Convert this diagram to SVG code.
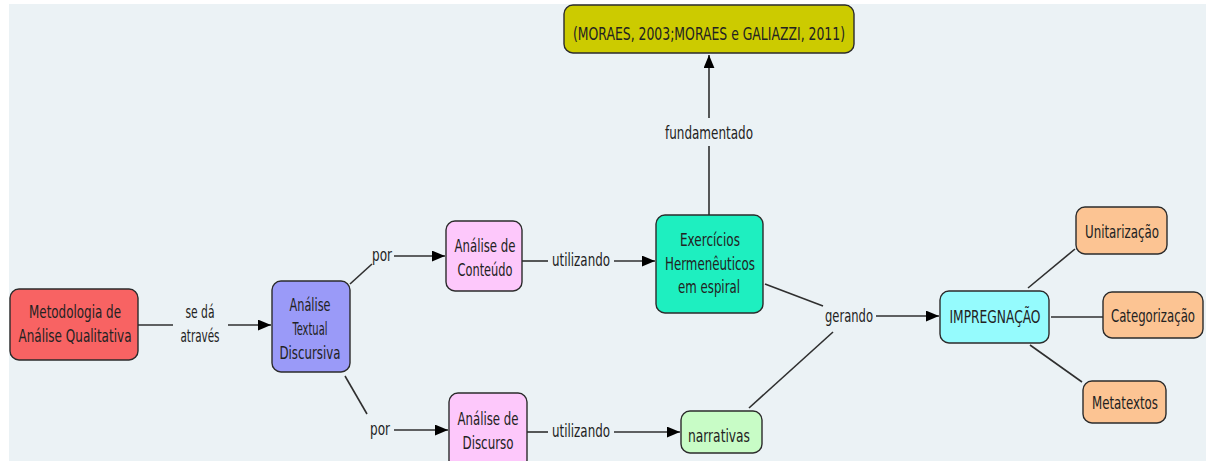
<svg xmlns="http://www.w3.org/2000/svg" width="1206" height="461" viewBox="0 0 1206 461">
  <defs>
    <marker id="arrow" viewBox="0 0 12 10" refX="12" refY="5" markerWidth="13" markerHeight="11" markerUnits="userSpaceOnUse" orient="auto">
      <path d="M0,0 L12,5 L0,10 Z" fill="#000"/>
    </marker>
    <style>
      .box { stroke: #2b2b2b; stroke-width: 1.4; }
      .lbl { font-family: "DejaVu Sans Condensed", "DejaVu Sans", sans-serif; font-size: 17px; fill: #222; text-anchor: middle; }
      .ln { stroke: #2f2f2f; stroke-width: 1.6; fill: none; }
      .arr { stroke: #2f2f2f; stroke-width: 1.6; fill: none; marker-end: url(#arrow); }
    </style>
  </defs>

  <!-- page and canvas -->
  <rect x="0" y="0" width="1206" height="461" fill="#ffffff"/>
  <rect x="9" y="4" width="1197" height="457" fill="#ebf2f5"/>

  <!-- connectors -->
  <g id="connectors">
    <line class="ln" x1="138" y1="325" x2="173" y2="325"/>
    <line class="arr" x1="228" y1="325" x2="271" y2="325"/>

    <line class="ln" x1="350" y1="284" x2="372" y2="264"/>
    <line class="arr" x1="394" y1="256" x2="445" y2="256"/>

    <line class="ln" x1="345" y1="376" x2="367" y2="414"/>
    <line class="arr" x1="394" y1="430" x2="448" y2="430"/>

    <line class="ln" x1="522" y1="261" x2="548" y2="261"/>
    <line class="arr" x1="614" y1="261" x2="655" y2="261"/>

    <line class="ln" x1="527" y1="432" x2="548" y2="432"/>
    <line class="arr" x1="614" y1="432" x2="680" y2="432"/>

    <line class="ln" x1="709" y1="215" x2="709" y2="146"/>
    <line class="arr" x1="709" y1="118" x2="709" y2="55"/>

    <line class="ln" x1="765" y1="284" x2="823" y2="306"/>
    <line class="ln" x1="749" y1="408" x2="833" y2="332"/>
    <line class="arr" x1="876" y1="316" x2="939" y2="316"/>

    <line class="ln" x1="1028" y1="288" x2="1075" y2="249"/>
    <line class="ln" x1="1051" y1="317" x2="1103" y2="317"/>
    <line class="ln" x1="1030" y1="345" x2="1082" y2="382"/>
  </g>

  <!-- connector labels -->
  <g id="link-labels">
    <text class="lbl" x="200" y="318" textLength="29" lengthAdjust="spacingAndGlyphs">se dá</text>
    <text class="lbl" x="200" y="342" textLength="39" lengthAdjust="spacingAndGlyphs">através</text>
    <text class="lbl" x="382" y="261" textLength="20" lengthAdjust="spacingAndGlyphs">por</text>
    <text class="lbl" x="380" y="435" textLength="20" lengthAdjust="spacingAndGlyphs">por</text>
    <text class="lbl" x="581" y="266" textLength="58" lengthAdjust="spacingAndGlyphs">utilizando</text>
    <text class="lbl" x="581" y="437" textLength="58" lengthAdjust="spacingAndGlyphs">utilizando</text>
    <text class="lbl" x="709" y="139" textLength="88" lengthAdjust="spacingAndGlyphs">fundamentado</text>
    <text class="lbl" x="849" y="322" textLength="48" lengthAdjust="spacingAndGlyphs">gerando</text>
  </g>

  <!-- nodes -->
  <g id="node-metodologia">
    <rect class="box" x="10" y="289" width="128" height="71" rx="9" fill="#f86363"/>
    <text class="lbl" x="75" y="318" textLength="92" lengthAdjust="spacingAndGlyphs">Metodologia de</text>
    <text class="lbl" x="75" y="342" textLength="113" lengthAdjust="spacingAndGlyphs">Análise Qualitativa</text>
  </g>

  <g id="node-atd">
    <rect class="box" x="272" y="281" width="78" height="91" rx="9" fill="#9a9af8"/>
    <text class="lbl" x="310" y="311" textLength="41" lengthAdjust="spacingAndGlyphs">Análise</text>
    <text class="lbl" x="310" y="335" textLength="35" lengthAdjust="spacingAndGlyphs">Textual</text>
    <text class="lbl" x="310" y="359" textLength="61" lengthAdjust="spacingAndGlyphs">Discursiva</text>
  </g>

  <g id="node-conteudo">
    <rect class="box" x="446" y="221" width="76" height="70" rx="9" fill="#fdc8fb"/>
    <text class="lbl" x="485" y="252" textLength="61" lengthAdjust="spacingAndGlyphs">Análise de</text>
    <text class="lbl" x="485" y="276" textLength="55" lengthAdjust="spacingAndGlyphs">Conteúdo</text>
  </g>

  <g id="node-discurso">
    <rect class="box" x="449" y="393" width="78" height="76" rx="9" fill="#fdc8fb"/>
    <text class="lbl" x="488" y="425" textLength="61" lengthAdjust="spacingAndGlyphs">Análise de</text>
    <text class="lbl" x="488" y="449" textLength="51" lengthAdjust="spacingAndGlyphs">Discurso</text>
  </g>

  <g id="node-exercicios">
    <rect class="box" x="656" y="215" width="107" height="98" rx="9" fill="#1eefc0"/>
    <text class="lbl" x="710" y="246" textLength="60" lengthAdjust="spacingAndGlyphs">Exercícios</text>
    <text class="lbl" x="710" y="270" textLength="90" lengthAdjust="spacingAndGlyphs">Hermenêuticos</text>
    <text class="lbl" x="709" y="293" textLength="62" lengthAdjust="spacingAndGlyphs">em espiral</text>
  </g>

  <g id="node-narrativas">
    <rect class="box" x="681" y="411" width="81" height="42" rx="9" fill="#c8fcc6"/>
    <text class="lbl" x="719" y="442" textLength="62" lengthAdjust="spacingAndGlyphs">narrativas</text>
  </g>

  <g id="node-referencias">
    <rect class="box" x="564" y="5" width="290" height="48" rx="9" fill="#cccb00"/>
    <text class="lbl" x="709" y="40" textLength="272" lengthAdjust="spacingAndGlyphs" fill="#2a2a00">(MORAES, 2003;MORAES e GALIAZZI, 2011)</text>
  </g>

  <g id="node-impregnacao">
    <rect class="box" x="940" y="291" width="109" height="52" rx="9" fill="#95fbfd"/>
    <text class="lbl" x="995" y="323" textLength="91" lengthAdjust="spacingAndGlyphs">IMPREGNAÇÃO</text>
  </g>

  <g id="node-unitarizacao">
    <rect class="box" x="1076" y="207" width="91" height="47" rx="9" fill="#fcc493"/>
    <text class="lbl" x="1122" y="238" textLength="74" lengthAdjust="spacingAndGlyphs">Unitarização</text>
  </g>

  <g id="node-categorizacao">
    <rect class="box" x="1103" y="292" width="100" height="46" rx="9" fill="#fcc493"/>
    <!-- horizontally condensed so the label stays inside the right edge -->
    <text class="lbl" transform="translate(1153,322) scale(0.7,1)" x="0" y="0" textLength="120" lengthAdjust="spacingAndGlyphs">Categorização</text>
  </g>

  <g id="node-metatextos">
    <rect class="box" x="1083" y="381" width="83" height="42" rx="9" fill="#fcc493"/>
    <text class="lbl" x="1125" y="409" textLength="66" lengthAdjust="spacingAndGlyphs">Metatextos</text>
  </g>
</svg>
